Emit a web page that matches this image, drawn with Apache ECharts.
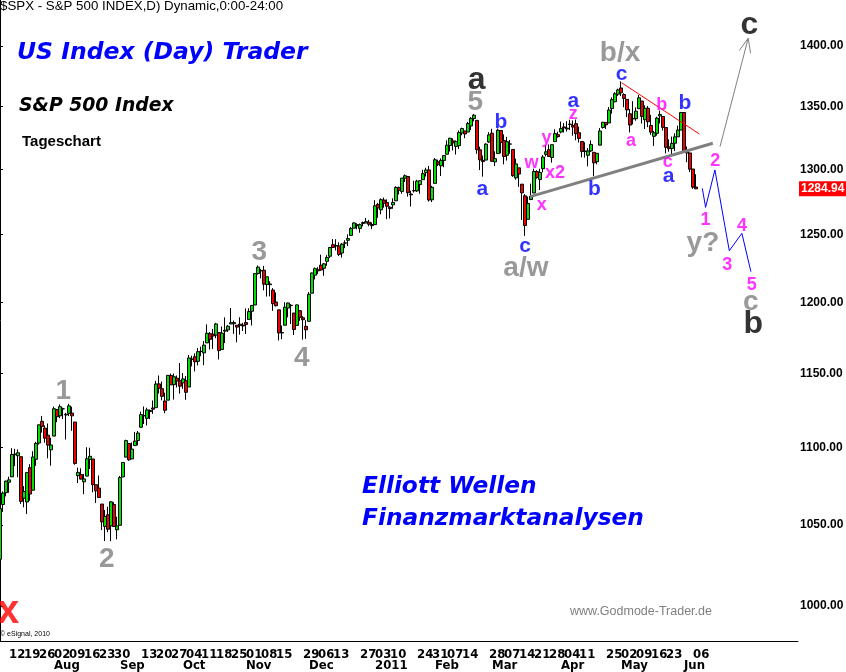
<!DOCTYPE html>
<html><head><meta charset="utf-8">
<script src="https://cdn.jsdelivr.net/npm/echarts/dist/echarts.min.js"></script>
<style>html,body{margin:0;padding:0;background:#fff}#c{width:846px;height:672px}</style>
</head><body><div id="c"></div><script>
// trading days per month
const tradingDays = [
 ['2010-07',[7,8,9,12,13,14,15,16,19,20,21,22,23,26,27,28,29,30]],
 ['2010-08',[2,3,4,5,6,9,10,11,12,13,16,17,18,19,20,23,24,25,26,27,30,31]],
 ['2010-09',[1,2,3,7,8,9,10,13,14,15,16,17,20,21,22,23,24,27,28,29,30]],
 ['2010-10',[1,4,5,6,7,8,11,12,13,14,15,18,19,20,21,22,25,26,27,28,29]],
 ['2010-11',[1,2,3,4,5,8,9,10,11,12,15,16,17,18,19,22,23,24,26,29,30]],
 ['2010-12',[1,2,3,6,7,8,9,10,13,14,15,16,17,20,21,22,23,27,28,29,30,31]],
 ['2011-01',[3,4,5,6,7,10,11,12,13,14,18,19,20,21,24,25,26,27,28,31]],
 ['2011-02',[1,2,3,4,7,8,9,10,11,14,15,16,17,18,22,23,24,25,28]],
 ['2011-03',[1,2,3,4,7,8,9,10,11,14,15,16,17,18,21,22,23,24,25,28,29,30,31]],
 ['2011-04',[1,4,5,6,7,8,11,12,13,14,15,18,19,20,21,25,26,27,28,29]],
 ['2011-05',[2,3,4,5,6,9,10,11,12,13,16,17,18,19,20,23,24,25,26,27,31]],
 ['2011-06',[1,2,3,6,7]]
];
const futureSlots = 34;

const opens = [
 1028.5,1062.9,1070.5,1077.2,1080.7,1095.6,1094.5,1093.9,1066.9,1064.5,1086.7,1072.1,1092.2,1102.9,1117.4,1112.8,1108.1,1098.4,
 1107.5,1125.3,1121.1,1125.8,1122.1,1122.8,1122.9,1116.9,1081.5,1082.2,1077.5,1081.2,1092.1,1092.4,1075.6,1073.4,1063.2,1049.0,1056.3,1049.3,1062.9,1046.9,
 1049.7,1080.7,1093.6,1102.6,1092.4,1101.2,1104.6,1113.4,1121.2,1119.4,1123.9,1126.4,1126.6,1142.8,1139.5,1131.1,1131.7,1148.6,1142.3,1146.7,1145.0,
 1143.5,1145.0,1140.7,1159.8,1161.6,1158.4,1165.3,1164.3,1171.3,1177.8,1177.5,1176.8,1178.6,1166.7,1179.6,1180.5,1184.7,1184.9,1183.8,1184.5,1183.9,
 1185.7,1187.9,1193.8,1198.3,1221.2,1223.2,1223.6,1213.1,1213.0,1209.1,1200.4,1194.8,1178.3,1183.8,1196.1,1198.1,1192.5,1183.7,1194.2,1189.1,1183.0,
 1186.6,1206.8,1219.9,1223.9,1227.3,1225.0,1230.1,1233.9,1242.5,1241.8,1241.6,1236.3,1243.6,1245.8,1249.4,1254.9,1257.5,1254.7,1259.1,1258.8,1259.4,1256.8,
 1257.6,1272.9,1268.8,1276.3,1274.4,1270.8,1272.6,1275.7,1285.8,1282.9,1293.2,1294.5,1280.9,1283.6,1283.3,1288.2,1292.0,1297.5,1299.6,1276.5,
 1289.1,1305.9,1302.8,1307.0,1311.9,1318.8,1322.5,1318.1,1318.7,1328.7,1330.4,1329.5,1334.4,1340.4,1338.9,1315.4,1307.1,1307.3,1321.6,
 1328.6,1305.9,1312.4,1330.7,1322.7,1311.1,1319.9,1315.7,1293.4,1301.2,1288.5,1279.5,1261.6,1276.7,1281.7,1298.3,1292.2,1300.6,1311.8,1315.5,1309.4,1321.9,1327.4,
 1329.5,1333.6,1332.0,1335.9,1334.8,1336.2,1329.0,1322.0,1314.0,1311.1,1314.5,1313.4,1306.0,1319.1,1333.2,1337.1,1336.8,1348.4,1353.9,1360.1,
 1365.2,1359.8,1355.9,1344.2,1340.2,1340.2,1348.3,1354.5,1339.4,1348.7,1334.8,1326.1,1328.5,1342.4,1342.0,1333.1,1317.7,1316.4,1320.6,1325.7,1331.1,
 1345.2,1314.6,1312.9,1300.3,1286.3
];
const highs = [
 1060.9,1071.3,1078.2,1080.8,1099.5,1099.1,1098.7,1093.9,1074.7,1083.9,1089.0,1097.5,1103.7,1115.2,1121.0,1114.7,1115.9,1106.4,
 1127.3,1125.4,1128.8,1126.6,1123.1,1129.2,1127.2,1116.9,1086.7,1086.3,1082.6,1100.1,1099.8,1092.4,1075.6,1081.6,1063.2,1059.4,1061.5,1065.2,1064.4,1055.1,
 1081.3,1090.1,1105.1,1102.6,1103.3,1110.3,1110.9,1123.9,1127.4,1126.5,1125.4,1131.5,1144.9,1148.6,1144.4,1136.8,1148.9,1149.9,1150.0,1148.6,1157.2,
 1150.3,1148.2,1162.8,1162.3,1163.9,1167.7,1168.7,1172.6,1184.4,1178.9,1181.2,1185.5,1178.6,1182.9,1189.4,1183.9,1196.1,1187.1,1183.8,1189.5,1185.5,
 1195.8,1195.9,1198.3,1221.3,1227.1,1224.6,1226.8,1218.8,1215.5,1210.5,1207.4,1194.8,1183.6,1200.3,1200.0,1198.9,1192.5,1198.6,1194.2,1190.3,1187.4,
 1207.6,1221.9,1225.6,1225.8,1235.1,1228.9,1234.7,1240.4,1246.7,1246.6,1244.3,1243.8,1245.8,1250.2,1255.8,1259.4,1258.6,1258.4,1259.9,1262.6,1261.1,1259.3,
 1276.2,1274.1,1277.6,1278.2,1276.8,1271.5,1277.6,1286.9,1286.7,1293.2,1296.1,1294.6,1283.4,1291.2,1291.9,1291.3,1299.7,1301.3,1302.7,1287.2,
 1308.9,1307.6,1308.6,1311.0,1322.9,1324.9,1324.5,1322.8,1330.8,1333.0,1330.4,1337.6,1341.5,1344.1,1338.9,1317.9,1310.9,1320.6,1329.4,
 1332.1,1314.2,1332.3,1331.1,1327.7,1325.7,1323.2,1315.7,1308.4,1301.2,1288.5,1280.9,1278.9,1288.9,1300.6,1299.4,1300.5,1311.3,1319.2,1319.7,1319.4,1331.7,1329.8,
 1337.9,1336.7,1338.2,1339.4,1338.8,1339.5,1333.8,1322.0,1321.4,1316.8,1322.9,1313.4,1312.7,1332.7,1337.5,1337.6,1349.6,1357.5,1361.7,1364.6,
 1370.6,1360.8,1355.9,1348.0,1354.4,1349.4,1359.4,1354.5,1351.1,1350.5,1343.3,1330.4,1341.8,1346.8,1342.0,1333.1,1323.7,1325.9,1328.5,1334.6,1345.2,
 1345.2,1318.0,1312.9,1300.3,1296.2
];
const lows = [
 1028.3,1058.2,1068.1,1070.4,1080.7,1087.7,1080.5,1063.3,1061.1,1056.9,1065.3,1072.1,1087.9,1101.8,1109.8,1103.1,1092.8,1088.0,
 1107.5,1116.8,1119.5,1118.9,1105.2,1120.9,1111.0,1088.6,1076.7,1079.0,1069.5,1081.2,1085.8,1070.7,1063.9,1067.1,1046.7,1039.8,1045.4,1039.7,1048.8,1040.9,
 1049.7,1080.4,1093.6,1091.2,1092.4,1101.2,1101.4,1113.4,1115.6,1114.6,1118.9,1122.4,1126.6,1136.2,1131.6,1122.8,1131.7,1142.0,1132.1,1140.3,1136.1,
 1139.4,1131.9,1140.7,1154.9,1151.4,1155.6,1162.0,1155.7,1171.3,1166.7,1167.1,1174.6,1159.7,1166.7,1171.2,1179.0,1184.7,1177.7,1171.7,1177.1,1179.7,
 1177.6,1187.9,1183.6,1198.3,1220.3,1217.6,1208.9,1204.3,1204.5,1194.1,1197.2,1173.0,1173.9,1183.8,1189.4,1184.6,1176.9,1183.7,1186.9,1173.6,1174.1,
 1186.6,1206.8,1216.8,1220.7,1223.2,1219.5,1226.9,1232.6,1240.3,1238.2,1234.0,1232.9,1239.9,1241.5,1249.4,1254.9,1254.0,1251.5,1256.2,1258.8,1256.3,1254.2,
 1257.6,1262.7,1265.4,1270.4,1261.7,1262.2,1269.6,1275.7,1280.5,1281.1,1290.2,1278.9,1271.3,1282.1,1282.5,1281.1,1292.0,1294.4,1275.1,1274.7,
 1289.1,1302.6,1294.8,1301.7,1311.9,1314.0,1314.9,1311.7,1316.1,1326.9,1324.6,1329.5,1331.0,1338.1,1312.3,1299.5,1294.3,1307.3,1320.9,
 1306.1,1302.6,1312.4,1312.6,1304.0,1306.9,1312.3,1294.2,1292.0,1286.4,1261.1,1249.1,1261.6,1276.2,1281.7,1292.7,1284.0,1297.7,1310.2,1310.2,1305.3,1321.9,1325.0,
 1328.5,1329.1,1330.0,1331.1,1326.6,1322.9,1321.1,1309.5,1309.2,1302.4,1313.7,1294.7,1304.0,1319.1,1332.3,1331.9,1336.8,1344.3,1353.6,1358.7,
 1358.6,1349.5,1341.5,1329.2,1335.6,1338.6,1348.3,1336.4,1332.0,1333.4,1327.3,1318.5,1326.6,1336.4,1330.7,1312.6,1313.9,1311.8,1314.4,1325.7,1331.1,
 1313.7,1305.6,1297.9,1284.9,1284.7
];
const closes = [
 1060.27,1070.25,1077.96,1078.75,1095.34,1095.17,1096.48,1064.88,1071.25,1083.48,1069.59,1093.67,1102.66,1115.01,1113.84,1106.13,1101.53,1101.60,
 1125.86,1120.46,1127.24,1125.81,1121.64,1127.79,1121.06,1089.47,1083.61,1079.25,1079.38,1092.54,1094.16,1075.63,1071.69,1067.36,1051.87,1055.33,1047.22,1064.59,1048.92,1049.33,
 1080.29,1090.10,1104.51,1091.84,1098.87,1104.18,1109.55,1121.90,1121.10,1125.07,1124.66,1125.59,1142.71,1139.78,1134.28,1124.83,1148.67,1142.16,1147.70,1144.73,1141.20,
 1146.24,1137.03,1160.75,1159.97,1158.06,1165.15,1165.32,1169.77,1178.10,1173.81,1176.19,1184.71,1165.90,1178.17,1180.26,1183.08,1185.62,1185.64,1182.45,1183.78,1183.26,
 1184.38,1193.57,1197.96,1221.06,1225.85,1223.25,1213.40,1218.71,1213.54,1199.21,1197.75,1178.34,1178.59,1196.69,1199.73,1197.84,1180.73,1198.35,1189.40,1187.76,1180.55,
 1206.07,1221.53,1224.71,1223.12,1223.75,1228.28,1233.00,1240.40,1240.46,1241.59,1235.23,1242.87,1243.91,1247.08,1254.60,1258.84,1256.77,1257.54,1258.51,1259.78,1257.88,1257.64,
 1271.87,1270.20,1276.56,1273.85,1271.50,1269.75,1274.48,1285.96,1283.76,1293.24,1295.02,1281.92,1280.26,1283.35,1290.84,1291.18,1296.63,1299.54,1276.34,1286.12,
 1307.59,1304.03,1307.10,1310.87,1319.05,1324.57,1320.88,1321.87,1329.15,1332.32,1328.01,1336.32,1340.43,1343.01,1315.44,1307.40,1306.10,1319.88,1327.22,
 1306.33,1308.44,1330.97,1321.15,1310.13,1321.82,1320.02,1295.11,1304.28,1296.39,1281.87,1256.88,1273.72,1279.21,1298.38,1293.77,1297.54,1309.66,1313.80,1310.19,1319.44,1328.26,1325.83,
 1332.41,1332.87,1332.63,1335.54,1333.51,1328.17,1324.46,1314.16,1314.41,1314.52,1319.68,1305.14,1312.62,1330.36,1337.38,1335.25,1347.24,1355.66,1360.48,1363.61,
 1361.22,1356.62,1347.32,1335.10,1340.20,1346.29,1357.16,1342.08,1348.65,1337.77,1329.47,1328.98,1340.68,1343.60,1333.27,1317.37,1316.28,1320.47,1325.69,1331.10,1345.20,
 1314.55,1312.94,1300.16,1286.17,1284.94
];

// axis tick labels
const priceTicks = [1000,1050,1100,1150,1200,1250,1300,1350,1400];
const dayTicks = ['2010-07-12','2010-07-19','2010-07-26','2010-08-02','2010-08-09','2010-08-16','2010-08-23','2010-08-30',
 '2010-09-13','2010-09-20','2010-09-27','2010-10-04','2010-10-11','2010-10-18','2010-10-25','2010-11-01','2010-11-08','2010-11-15',
 '2010-11-29','2010-12-06','2010-12-13','2010-12-27','2011-01-03','2011-01-10','2011-01-24','2011-01-31','2011-02-07','2011-02-14',
 '2011-02-28','2011-03-07','2011-03-14','2011-03-21','2011-03-28','2011-04-04','2011-04-11',
 '2011-04-25','2011-05-02','2011-05-09','2011-05-16','2011-05-23','2011-06-06'];
const monthTicks = [['2010-08-02','Aug'],['2010-09-01','Sep'],['2010-10-01','Oct'],['2010-11-01','Nov'],['2010-12-01','Dec'],
 ['2011-01-03','2011'],['2011-02-01','Feb'],['2011-03-01','Mar'],['2011-04-01','Apr'],['2011-05-02','May'],['2011-06-01','Jun']];

// Elliott wave annotations: [text, slot position, price, kind]
const waveLabels = [
 ['1',21.1,1139.1,'gray'],['2',35.6,1029.7,'gray'],['3',86.4,1238.5,'gray'],['4',100.6,1162.1,'gray'],
 ['5',158.4,1355.4,'gray'],['a',158.9,1373.2,'black'],
 ['b',167,1339.2,'blue'],['a',160.8,1286.1,'blue'],['c',175,1242.8,'blue'],['a/w',175.3,1226.2,'gray'],
 ['w',177.2,1306.8,'magenta'],['x',180.6,1274.3,'magenta'],['x2',185,1298.8,'magenta'],['y',182.2,1326.4,'magenta'],
 ['a',191.1,1356.2,'blue'],['z',191.1,1345.9,'magenta'],['b',198.1,1285.8,'blue'],
 ['c',207.2,1378.1,'blue'],['b/x',206.7,1395.3,'gray'],
 ['a',210.3,1324.0,'magenta'],['b',220.6,1352.7,'magenta'],['c',222.6,1307.4,'magenta'],['a',222.9,1296.2,'blue'],['b',228.3,1354.6,'blue'],
 ['1',235.2,1262.4,'magenta'],['2',238.4,1307.9,'magenta'],['3',242.4,1228.7,'magenta'],['4',247.3,1258.1,'magenta'],['5',250.6,1214.4,'magenta'],
 ['y?',234.3,1245.3,'gray'],['c',250.3,1201.9,'gray'],['b',251.1,1186.3,'black'],['c',249.8,1419.3,'black'],
 ['x',2.7,997.6,'red']
];
// drawn lines: [slot, price]
const supportLine = [[176.7,1278.9],[237.6,1320.6]];
const resistLine = [[207.2,1369.5],[233.1,1328.0]];
const upArrow = [[240.0,1317.9],[249.4,1406.6]];
const upArrowHead = [[246.4,1396.2],[249.4,1406.6],[250.2,1394.0]];
const projection = [[234.1,1285.3],[235.2,1270.7],[238.3,1299.6],[243.1,1238.0],[247.3,1251.0],[250.3,1222.5]];

// ---------- build ----------
const categories = [];
tradingDays.forEach(([ym, days]) => days.forEach(d => categories.push(ym + '-' + String(d).padStart(2,'0'))));
const nData = categories.length;
for (let i = 1; i <= futureSlots; i++) categories.push('+' + i);
const ohlc = opens.map((o, i) => [o, closes[i], lows[i], highs[i]]);
if ([opens, highs, lows, closes].some(a => a.length !== nData)) console.error('length mismatch', nData, opens.length, highs.length, lows.length, closes.length);

const daySet = new Set(dayTicks);
const monthMap = new Map(monthTicks);
const lastSlot = categories.length - 1;
// the axis end slots carry empty labels, so ECharts' min/max-label handling never touches a real label
const isEnd = i => i === 0 || i === lastSlot;

const kindStyle = {
  black:   {color:'#000000', fontSize:32},
  gray:    {color:'#808080', fontSize:28},
  blue:    {color:'#0000ff', fontSize:21},
  magenta: {color:'#ff00ff', fontSize:18},
  red:     {color:'#ff0000', fontSize:40}
};
const labelData = waveLabels.map(([t, x, p, k]) => ({
  name: t, value: [x, p],
  label: {color: kindStyle[k].color, fontSize: kindStyle[k].fontSize}
}));

const narrow = '"Liberation Sans Narrow", "DejaVu Sans Condensed", "Liberation Sans", Arial, sans-serif';

const chart = echarts.init(document.getElementById('c'), null, {renderer:'canvas'});
chart.setOption({
  animation: false,
  backgroundColor: '#ffffff',
  grid: {left:0, right:48, top:0, bottom:31, containLabel:false, outerBoundsMode:'none'},
  xAxis: [
    {type:'category', data:categories, boundaryGap:false, position:'bottom',
     axisLine:{show:true, onZero:false, lineStyle:{color:'#000', width:1}},
     axisTick:{show:false}, splitLine:{show:false},
     axisLabel:{interval:(i, v) => isEnd(i) || daySet.has(v), formatter: v => daySet.has(v) ? v.slice(8,10) : '',
       align:'left', hideOverlap:false, showMinLabel:false, showMaxLabel:false,
       margin:7, color:'#000', fontWeight:'bold', fontSize:13, fontFamily:narrow}},
    {type:'category', data:categories, boundaryGap:false, position:'bottom', offset:11,
     axisLine:{show:false}, axisTick:{show:false}, splitLine:{show:false},
     axisLabel:{interval:(i, v) => isEnd(i) || monthMap.has(v), formatter: v => monthMap.get(v) || '',
       align:'left', hideOverlap:false, showMinLabel:false, showMaxLabel:false,
       margin:7, color:'#000', fontWeight:'bold', fontSize:13, fontFamily:narrow}},
    {type:'value', min:0, max:lastSlot, show:false, position:'top'}
  ],
  yAxis: {
    type:'log', logBase:10, min:979.2, max:1439.3, position:'right',
    axisLine:{show:true, lineStyle:{color:'#000', width:1}},
    axisTick:{show:true, inside:false, length:3, customValues:priceTicks, lineStyle:{color:'#000'}},
    splitLine:{show:false},
    axisLabel:{customValues:priceTicks, formatter: v => Number(v).toFixed(2), color:'#000',
      fontWeight:'bold', fontSize:12, fontFamily:'"Liberation Sans", Arial, sans-serif', margin:2}
  },
  series: [
    {type:'candlestick', xAxisIndex:0, yAxisIndex:0, data:ohlc, barWidth:3,
     itemStyle:{color:'#00e000', color0:'#ee0000', borderColor:'#000', borderColor0:'#000', borderWidth:1},
     markLine:{silent:true, symbol:['none','none'], data:[{yAxis: closes[closes.length-1]}],
       lineStyle:{color:'rgba(0,0,0,0)', width:1, type:'solid'},
       label:{show:true, position:'end', distance:1, formatter: p => Number(p.value).toFixed(2), color:'#fff',
         backgroundColor:'#ff0000', fontWeight:'bold', fontSize:12, fontFamily:'"Liberation Sans", Arial, sans-serif',
         padding:[2,2,1,2]}}},
    {type:'line', xAxisIndex:2, yAxisIndex:0, data:supportLine, symbol:'none', lineStyle:{color:'#808080', width:3}, z:3},
    {type:'line', xAxisIndex:2, yAxisIndex:0, data:resistLine, symbol:'none', lineStyle:{color:'#ff0000', width:1}, z:3},
    {type:'line', xAxisIndex:2, yAxisIndex:0, data:upArrow, symbol:'none', lineStyle:{color:'#808080', width:1}, z:3},
    {type:'line', xAxisIndex:2, yAxisIndex:0, data:upArrowHead, symbol:'none', lineStyle:{color:'#808080', width:1}, z:3},
    {type:'line', xAxisIndex:2, yAxisIndex:0, data:projection, symbol:'none', lineStyle:{color:'#0000ff', width:1}, z:3},
    {type:'scatter', xAxisIndex:2, yAxisIndex:0, data:labelData, symbolSize:0, silent:true, z:5,
     label:{show:true, position:'inside', offset:[0,2], formatter: p => p.name, fontWeight:'bold',
       fontFamily:'"Liberation Sans", Arial, sans-serif'}}
  ],
  graphic: [
    {type:'text', x:0, y:6, style:{text:'$SPX - S&P 500 INDEX,D) Dynamic,0:00-24:00', font:'13.3px "Liberation Sans", Arial', fill:'#000', textAlign:'left', textVerticalAlign:'middle'}},
    {type:'text', x:17, y:53, style:{text:'US Index (Day) Trader', font:'italic bold 23.5px "DejaVu Sans"', fill:'#0000ff', textAlign:'left', textVerticalAlign:'middle'}},
    {type:'text', x:19, y:106, style:{text:'S&P 500 Index', font:'italic bold 18.8px "DejaVu Sans"', fill:'#000', textAlign:'left', textVerticalAlign:'middle'}},
    {type:'text', x:22, y:142, style:{text:'Tageschart', font:'bold 15px "Liberation Sans", Arial', fill:'#000', textAlign:'left', textVerticalAlign:'middle'}},
    {type:'text', x:362, y:487, style:{text:'Elliott Wellen', font:'italic bold 23.3px "DejaVu Sans"', fill:'#0000ff', textAlign:'left', textVerticalAlign:'middle'}},
    {type:'text', x:362, y:519, style:{text:'Finanzmarktanalysen', font:'italic bold 23.3px "DejaVu Sans"', fill:'#0000ff', textAlign:'left', textVerticalAlign:'middle'}},
    {type:'text', x:570, y:612, style:{text:'www.Godmode-Trader.de', font:'12.5px "Liberation Sans", Arial', fill:'#808080', textAlign:'left', textVerticalAlign:'middle'}},
    {type:'text', x:0, y:634, style:{text:'© eSignal, 2010', font:'7px "Liberation Sans", Arial', fill:'#000', textAlign:'left', textVerticalAlign:'middle'}}
  ]
});
</script></body></html>
